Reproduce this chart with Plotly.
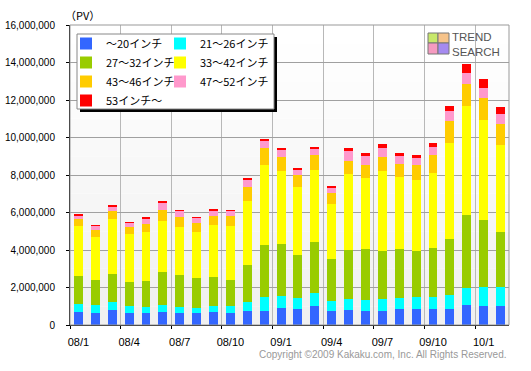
import plotly.graph_objects as go

# ---------------- data ----------------
months = ["08/1", "08/2", "08/3", "08/4", "08/5", "08/6", "08/7", "08/8", "08/9",
          "08/10", "08/11", "08/12", "09/1", "09/2", "09/3", "09/4", "09/5", "09/6",
          "09/7", "09/8", "09/9", "09/10", "09/11", "09/12", "10/1", "10/2"]
tick_labels = ["08/1", "08/4", "08/7", "08/10", "09/1", "09/4", "09/7", "09/10", "10/1"]

series_names = ["～20インチ", "21～26インチ", "27～32インチ", "33～42インチ",
                "43～46インチ", "47～52インチ", "53インチ～"]
series_colors = ["#3366ff", "#00ffff", "#99cc00", "#ffff00", "#ffcc00", "#ff99cc", "#ff0000"]

s_upto20 = [693000, 640000, 800000, 640000, 640000, 693000, 640000, 640000, 693000,
            640000, 747000, 747000, 907000, 853000, 1013000, 747000, 800000, 747000,
            747000, 853000, 853000, 853000, 853000, 1067000, 1013000, 1013000]
s_21_26 = [444000, 427000, 444000, 391000, 320000, 373000, 320000, 267000, 338000,
           391000, 498000, 747000, 658000, 587000, 693000, 533000, 587000, 604000,
           640000, 587000, 640000, 640000, 747000, 924000, 1013000, 1013000]
s_27_32 = [1493000, 1351000, 1493000, 1280000, 1404000, 1778000, 1724000, 1618000, 1547000,
           1387000, 1973000, 2791000, 2773000, 2293000, 2720000, 2240000, 2613000, 2702000,
           2560000, 2613000, 2453000, 2613000, 2987000, 3876000, 3573000, 2933000]
s_33_42 = [2667000, 2293000, 2933000, 2560000, 2613000, 2720000, 2560000, 2453000, 2773000,
           2880000, 3413000, 4267000, 3893000, 3644000, 3840000, 2933000, 4053000, 3787000,
           4267000, 3840000, 3787000, 4000000, 5120000, 5813000, 5333000, 4640000]
s_43_46 = [356000, 373000, 409000, 356000, 427000, 587000, 516000, 462000, 480000,
           533000, 747000, 907000, 729000, 622000, 800000, 587000, 693000, 693000,
           747000, 711000, 800000, 960000, 1173000, 1191000, 1191000, 1138000]
s_47_52 = [196000, 196000, 267000, 213000, 302000, 373000, 320000, 267000, 302000,
           249000, 356000, 356000, 373000, 302000, 338000, 267000, 533000, 480000,
           480000, 409000, 373000, 427000, 533000, 569000, 516000, 516000]
s_53up = [71000, 53000, 53000, 53000, 53000, 53000, 53000, 53000, 53000,
          53000, 107000, 107000, 107000, 71000, 53000, 107000, 160000, 160000,
          213000, 160000, 160000, 213000, 267000, 480000, 480000, 373000]

series_values = [s_upto20, s_21_26, s_27_32, s_33_42, s_43_46, s_47_52, s_53up]
legend_of = ["legend", "legend2", "legend", "legend2", "legend", "legend2", "legend"]

# ---------------- layout geometry (pixels) ----------------
W, H = 531, 371
ML, MR, MT, MB = 70, 22, 25, 46
PW, PH = W - ML - MR, H - MT - MB


def px_x(p):
    return (p - ML) / PW


def px_y(p):
    return (H - MB - p) / PH


x_idx = list(range(len(months)))

fig = go.Figure()
for name, color, vals, lg in zip(series_names, series_colors, series_values, legend_of):
    fig.add_trace(go.Bar(
        x=x_idx, y=vals, name=name, legend=lg,
        marker=dict(color=color, line=dict(width=0)),
        hovertext=months,
    ))

shapes = []
# vertical gradient background of the plot area
n_strips = 16
for i in range(n_strips):
    t = i / (n_strips - 1)
    g = int(round(0xf0 + (0xff - 0xf0) * t))
    shapes.append(dict(type="rect", xref="x domain", yref="y domain", layer="below",
                       x0=0, x1=1, y0=i / n_strips, y1=(i + 1) / n_strips,
                       line=dict(width=0), fillcolor=f"rgb({g},{g},{g})"))
# gray frame (top/right)
shapes.append(dict(type="rect", xref="x domain", yref="y domain", layer="above",
                   x0=0, x1=1, y0=0, y1=1, line=dict(color="#999999", width=1),
                   fillcolor="rgba(0,0,0,0)"))
# legend box with shadow
bx0, bx1, by0, by1 = 77, 274, 34, 109
shapes.append(dict(type="rect", xref="paper", yref="paper", layer="above",
                   x0=px_x(bx0 + 3), x1=px_x(bx1 + 3), y0=px_y(by1 + 3), y1=px_y(by0 + 3),
                   line=dict(width=0), fillcolor="#000000"))
shapes.append(dict(type="rect", xref="paper", yref="paper", layer="above",
                   x0=px_x(bx0), x1=px_x(bx1), y0=px_y(by1), y1=px_y(by0),
                   line=dict(color="#888888", width=1), fillcolor="#ffffff"))
# logo icon
icon = [(428, 438, 33, 43, "#c8e86a"), (438, 449, 33, 43, "#f6c38a"),
        (428, 438, 43, 54, "#f59ac0"), (438, 449, 43, 54, "#a58af0")]
for x0, x1, y0, y1, c in icon:
    shapes.append(dict(type="rect", xref="paper", yref="paper", layer="above",
                       x0=px_x(x0), x1=px_x(x1), y0=px_y(y1), y1=px_y(y0),
                       line=dict(color="#777777", width=1), fillcolor=c))

annotations = [
    dict(text="（PV）", x=px_x(63), y=px_y(15), xref="paper", yref="paper",
         xanchor="left", yanchor="middle", showarrow=False,
         font=dict(family="Noto Sans CJK JP", size=11, color="#000000")),
    dict(text="TREND<br>SEARCH", x=px_x(450), y=px_y(44), xref="paper", yref="paper",
         xanchor="left", yanchor="middle", align="left", showarrow=False,
         font=dict(family="Liberation Sans", size=11.5, color="#555555")),
    dict(text="Copyright ©2009 Kakaku.com, Inc. All Rights Reserved.",
         x=px_x(509), y=px_y(354), xref="paper", yref="paper",
         xanchor="right", yanchor="middle", showarrow=False,
         font=dict(family="Liberation Sans", size=10, color="#999999")),
]

legend_common = dict(orientation="v", xanchor="left", yanchor="top",
                     bgcolor="rgba(0,0,0,0)", borderwidth=0, traceorder="normal",
                     font=dict(family="Noto Sans CJK JP", size=11, color="#000000"),
                     itemclick=False, itemdoubleclick=False)

fig.update_layout(
    width=W, height=H,
    margin=dict(l=ML, r=MR, t=MT, b=MB, pad=0, autoexpand=False),
    paper_bgcolor="#ffffff", plot_bgcolor="#ffffff",
    barmode="stack", bargap=0.47,
    showlegend=True,
    legend=dict(x=px_x(66), y=px_y(29), **legend_common),
    legend2=dict(x=px_x(160), y=px_y(29), **legend_common),
    xaxis=dict(
        range=[-0.5, len(months) - 0.5],
        tickmode="array", tickvals=[months.index(t) for t in tick_labels], ticktext=tick_labels,
        ticks="", showgrid=False, zeroline=False,
        showline=True, linecolor="#000000", linewidth=1,
        tickfont=dict(family="Liberation Sans", size=11, color="#000000"),
        ticklabelstandoff=7,
        minor=dict(tickmode="linear", tick0=2.5, dtick=3, ticks="outside", ticklen=3,
                   tickcolor="#000000", showgrid=True, gridcolor="#b8b8b8", gridwidth=1),
    ),
    yaxis=dict(
        range=[0, 16000000], dtick=2000000, tick0=0, tickformat=",d",
        showgrid=True, gridcolor="#a0a0a0", gridwidth=1, zeroline=False,
        showline=True, linecolor="#000000", linewidth=1,
        ticks="outside", ticklen=3, tickcolor="#000000",
        tickfont=dict(family="Liberation Sans", size=10, color="#000000"),
        ticklabelstandoff=9,
    ),
    shapes=shapes,
    annotations=annotations,
)

fig.write_html("out.html", config={"displayModeBar": False},
               post_script="document.body.style.margin='0';document.body.style.overflow='hidden';")
